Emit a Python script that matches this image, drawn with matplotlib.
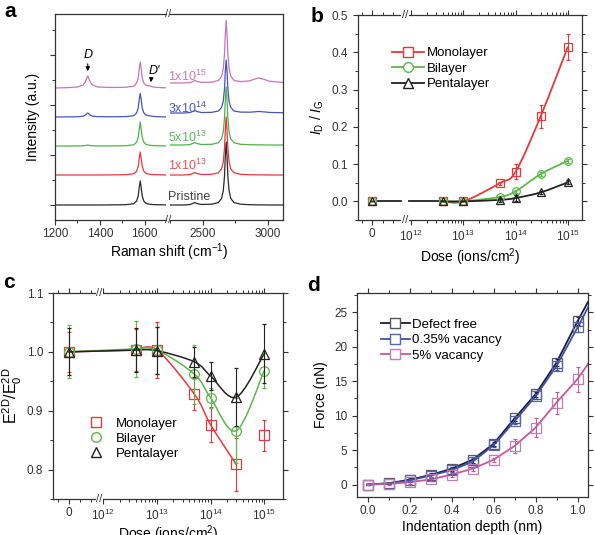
"""
Four-panel figure: Raman spectra of irradiated graphene, I_D/I_G vs dose,
normalised 2D modulus vs dose and simulated indentation force curves.
"""
import numpy as np
import matplotlib
matplotlib.use('Agg')
import matplotlib.pyplot as plt
from matplotlib.path import Path
from matplotlib.patches import PathPatch
from matplotlib.lines import Line2D
from matplotlib.ticker import MultipleLocator, FixedLocator

plt.rcParams['font.family'] = ['Liberation Sans', 'DejaVu Sans']
plt.rcParams['mathtext.fontset'] = 'custom'
plt.rcParams['mathtext.rm'] = 'Liberation Sans'
plt.rcParams['mathtext.it'] = 'Liberation Sans:italic'
plt.rcParams['axes.linewidth'] = 0.9
plt.rcParams['axes.edgecolor'] = '#333333'
plt.rcParams['xtick.color'] = '#333333'
plt.rcParams['ytick.color'] = '#333333'
plt.rcParams['xtick.labelsize'] = 8.5
plt.rcParams['ytick.labelsize'] = 8.5
plt.rcParams['xtick.major.pad'] = 2.5

# ---- (a) Raman spectra, offsets above each baseline (arb. units) ----
RAMAN_LEFT = [1200, 1250, 1300, 1325, 1335, 1341, 1346, 1351, 1357, 1367, 1390,
              1450, 1516, 1551, 1564, 1571, 1576, 1580, 1584, 1589, 1596, 1606,
              1617, 1622, 1628, 1640, 1670, 1695]
RAMAN_RIGHT = [2250, 2350, 2400, 2425, 2440, 2455, 2490, 2570, 2620, 2645, 2658,
               2667, 2674, 2680, 2686, 2693, 2702, 2715, 2740, 2790, 2860, 2900,
               2930, 2960, 3010, 3115]

PRISTINE_L = [0, 0, 0, 0, 0, 0, 0, 0, 0, 0, 0,
              0.1, 0.3, 1.3, 4, 9, 18, 24, 18, 9, 4, 1.6, 1, 0.8, 0.6, 0.4, 0.2, 0.1]
DOSE_1E13_L = [0, 0, 0, 0, 0, 0, 0, 0, 0, 0, 0,
               0.1, 0.3, 1.2, 3.8, 8.6, 17, 23, 17, 8.6, 3.8, 1.5, 1, 0.8, 0.6, 0.4, 0.2, 0.1]
DOSE_5E13_L = [0, 0, 0.1, 0.2, 0.45, 0.8, 1, 0.8, 0.45, 0.2, 0.1,
               0.1, 0.3, 1.2, 3.8, 8.6, 17, 24, 17, 8.6, 3.8, 1.6, 1, 0.8, 0.6, 0.4, 0.2, 0.1]
DOSE_3E14_L = [0, 0.1, 0.2, 0.8, 1.8, 3.2, 4, 3.2, 1.8, 0.8, 0.3,
               0.2, 0.4, 1.3, 4, 9, 18, 23.5, 18, 9, 4.2, 1.9, 1.4, 1.2, 0.9, 0.5, 0.2, 0.1]
DOSE_1E15_L = [0, 0.3, 1, 3, 6, 9.5, 12, 9.5, 6, 3, 1,
               0.5, 0.7, 1.8, 5, 10, 20, 26, 20, 10, 5, 2.8, 2.2, 2.3, 1.6, 0.9, 0.4, 0.2]

PRISTINE_R = [0, 0, 0.4, 1.5, 2.5, 1.5, 0.5, 0.8, 2.4, 6.6, 14.5, 28.5, 50, 63,
              50, 28.5, 14.5, 6.6, 2.4, 0.8, 0.3, 0.2, 0.1, 0.1, 0, 0]
DOSE_1E13_R = [0, 0, 0.4, 1.5, 2.5, 1.5, 0.5, 0.7, 2.2, 6.1, 13.3, 26.7, 46, 58,
               46, 26.7, 13.3, 6.1, 2.2, 0.7, 0.3, 0.2, 0.1, 0.1, 0, 0]
DOSE_5E13_R = [0, 0, 0.4, 1.5, 2.5, 1.5, 0.5, 0.7, 2.2, 6.1, 13.3, 26.7, 46, 58,
               46, 26.7, 13.3, 6.1, 2.2, 0.7, 0.3, 0.2, 0.1, 0.1, 0, 0]
DOSE_3E14_R = [0, 0, 0.4, 1.5, 2.5, 1.5, 0.5, 0.65, 2, 5.6, 12, 24, 43, 53,
               43, 24, 12, 5.6, 2, 0.9, 0.8, 1.2, 1.5, 1.2, 0.6, 0.2]
DOSE_1E15_R = [0, 0, 0.4, 1.5, 2.5, 1.5, 0.6, 0.8, 2.5, 6.7, 14.6, 29, 50, 63,
               50, 29, 14.6, 6.7, 2.6, 1.3, 2.2, 4, 5, 4, 1.8, 0.6]

SPEC_LABELS = ['Pristine', '1x10$^{13}$', '5x10$^{13}$', '3x10$^{14}$', '1x10$^{15}$']
SPEC_COLORS = ['#2a2a2a', '#e8383d', '#4cb34c', '#4455b8', '#c874b8']
LABEL_COLORS = ['#444444', '#e0555a', '#5cb85c', '#4a5abf', '#c87ab8']
BASE_LEFT = [15, 45, 74, 103, 132]
BASE_RIGHT = [15, 45, 75, 107, 137]
LABEL_Y = [23, 55, 83, 112, 144]

# ---- (b, c) dose series ----
DOSE = [0, 4e12, 1e13, 5e13, 1e14, 3e14, 1e15]
LAYERS = ['Monolayer', 'Bilayer', 'Pentalayer']
LAYER_COLORS = ['#e8383d', '#5cb84a', '#222222']
LAYER_MARKERS = ['s', 'o', '^']

ID_IG_MONO = [0, 0, 0, 0.049, 0.08, 0.228, 0.415]
ID_IG_MONO_ERR = [0, 0, 0, 0.004, 0.02, 0.031, 0.035]
ID_IG_BI = [0, 0, 0, 0.012, 0.027, 0.073, 0.109]
ID_IG_BI_ERR = [0, 0, 0, 0.003, 0.004, 0.006, 0.006]
ID_IG_PENTA = [0, 0, 0, 0.004, 0.009, 0.024, 0.051]
ID_IG_PENTA_ERR = [0, 0, 0, 0.006, 0.008, 0.005, 0.005]

E_MONO = [1.0, 1.003, 1.003, 0.928, 0.876, 0.809, 0.858]
E_MONO_ERR = [0.034, 0.036, 0.048, 0.027, 0.03, 0.045, 0.026]
E_BI = [1.0, 1.005, 1.003, 0.962, 0.922, 0.866, 0.968]
E_BI_ERR = [0.045, 0.048, 0.04, 0.05, 0.017, 0.055, 0.03]
E_PENTA = [1.0, 1.003, 1.002, 0.983, 0.959, 0.923, 0.997]
E_PENTA_ERR = [0.04, 0.037, 0.04, 0.025, 0.024, 0.049, 0.05]

# ---- (d) indentation ----
DEPTH = [0.0, 0.1, 0.2, 0.3, 0.4, 0.5, 0.6, 0.7, 0.8, 0.9, 1.0]
F_DEFECT_FREE = [0, 0.2, 0.7, 1.4, 2.3, 3.6, 5.9, 9.6, 13.1, 17.7, 23.7]
F_DEFECT_FREE_ERR = [0.1, 0.1, 0.2, 0.3, 0.3, 0.4, 0.3, 0.4, 0.4, 0.5, 0.6]
F_VAC_035 = [0, 0.15, 0.6, 1.3, 2.1, 3.3, 5.7, 9.2, 12.8, 17.2, 22.8]
F_VAC_035_ERR = [0.1, 0.1, 0.2, 0.3, 0.3, 0.5, 0.3, 0.4, 0.4, 0.6, 0.6]
F_VAC_5 = [0, 0.1, 0.35, 0.75, 1.45, 2.3, 3.6, 5.6, 8.25, 11.9, 15.3]
F_VAC_5_ERR = [0.1, 0.1, 0.2, 0.3, 0.3, 0.3, 0.3, 1.0, 1.4, 1.6, 1.8]
FIT_END_DEPTH = 1.05
FIT_END_FORCE = [26.5, 25.7, 17.5]
D_LABELS = ['Defect free', '0.35% vacancy', '5% vacancy']
D_COLORS = ['#1c1c3a', '#3e50a6', '#c4589c']
D_EDGE = ['#555566', '#5565b0', '#c878b4']

W, H = 595, 535
fig = plt.figure(figsize=(W / 100, H / 100), dpi=100)


def box(x0, y0, x1, y1):
    """Pixel box (top-left origin) -> figure fraction rect."""
    return [x0 / W, 1 - y1 / H, (x1 - x0) / W, (y1 - y0) / H]


def dose_pos(dose, zero_pos):
    return np.array([np.log10(d) if d > 0 else zero_pos for d in dose])


def smooth_line(ax, xs, ys, **kw):
    """Smooth curve through the points (Catmull-Rom as cubic Bezier)."""
    pts = np.column_stack([xs, ys]).astype(float)
    ext = np.vstack([pts[0], pts, pts[-1]])
    verts = [pts[0]]
    codes = [Path.MOVETO]
    for i in range(len(pts) - 1):
        p0, p1, p2, p3 = ext[i], ext[i + 1], ext[i + 2], ext[i + 3]
        verts += [p1 + (p2 - p0) / 6, p2 - (p3 - p1) / 6, p2]
        codes += [Path.CURVE4] * 3
    ax.add_patch(PathPatch(Path(verts, codes), fill=False, **kw))


def break_mark(ax, x):
    for yy in (0, 1):
        ax.text(x, yy, '//', transform=ax.get_xaxis_transform(), ha='center',
                va='center', fontsize=8, color='#333333', clip_on=False, zorder=5,
                bbox=dict(fc='white', ec='none', pad=0.3))


def dose_axis(ax, zero_pos, brk, xlim, labelpad=2):
    ax.set_xlim(*xlim)
    ax.set_xticks([zero_pos, 12, 13, 14, 15])
    ax.set_xticklabels(['0', '10$^{12}$', '10$^{13}$', '10$^{14}$', '10$^{15}$'])
    minors = [zero_pos - 0.2, zero_pos + 0.2, zero_pos + 0.4]
    for n in (12, 13, 14):
        minors += [n + np.log10(k) for k in range(2, 10)]
    ax.xaxis.set_minor_locator(FixedLocator(minors))
    ax.set_xlabel('Dose (ions/cm$^2$)', fontsize=10, labelpad=labelpad)
    break_mark(ax, brk)


def style_ticks(ax):
    ax.tick_params(which='both', direction='out', top=True, right=True)
    ax.tick_params(which='major', length=3.5, width=0.8)
    ax.tick_params(which='minor', length=2, width=0.7)


# ---------------- panel a ----------------
axl = fig.add_axes(box(55, 14, 166, 220))
axr = fig.add_axes(box(170, 14, 283, 220))
left_sets = [PRISTINE_L, DOSE_1E13_L, DOSE_5E13_L, DOSE_3E14_L, DOSE_1E15_L]
right_sets = [PRISTINE_R, DOSE_1E13_R, DOSE_5E13_R, DOSE_3E14_R, DOSE_1E15_R]
for yl, yr, bl, br, col in zip(left_sets, right_sets, BASE_LEFT, BASE_RIGHT, SPEC_COLORS):
    axl.plot(RAMAN_LEFT, np.array(yl) + bl, color=col, lw=0.9)
    axr.plot(RAMAN_RIGHT, np.array(yr) + br, color=col, lw=0.9)
for ax in (axl, axr):
    ax.set_ylim(0, 206)
    ax.tick_params(which='major', direction='out', length=3.5, width=0.8)
    ax.tick_params(which='minor', direction='out', length=2, width=0.7)
axl.set_xlim(1200, 1695)
axr.set_xlim(2250, 3115)
axl.xaxis.set_major_locator(MultipleLocator(200))
axl.xaxis.set_minor_locator(MultipleLocator(100))
axr.xaxis.set_major_locator(FixedLocator([2500, 3000]))
axr.xaxis.set_minor_locator(FixedLocator([2250, 2750]))
axl.yaxis.set_major_locator(FixedLocator([15, 65, 115, 165]))
axl.yaxis.set_minor_locator(FixedLocator([40, 90, 140, 190]))
axl.set_yticklabels([])
axl.spines['right'].set_visible(False)
axr.spines['left'].set_visible(False)
axr.tick_params(axis='y', which='both', left=False, labelleft=False)
axl.set_ylabel('Intensity (a.u.)', fontsize=10, labelpad=4)
for lab, ly, lc in zip(SPEC_LABELS, LABEL_Y, LABEL_COLORS):
    axr.text(2236, ly, lab, color=lc, fontsize=9, ha='left', va='center', clip_on=False)
axl.annotate('', xy=(1346, 146), xytext=(1346, 159),
             arrowprops=dict(arrowstyle='-|>', color='black', lw=0.8, mutation_scale=6))
axl.text(1346, 165, 'D', fontsize=9, style='italic', ha='center', va='center')
axl.annotate('', xy=(1626, 135), xytext=(1630, 143),
             arrowprops=dict(arrowstyle='-|>', color='black', lw=0.8, mutation_scale=6))
axl.text(1642, 149, "D'", fontsize=9, style='italic', ha='center', va='center')
for yy in (14, 220):
    fig.text(168 / W, 1 - yy / H, '//', ha='center', va='center', fontsize=8,
             color='#333333')
fig.text(169 / W, 1 - 252 / H, 'Raman shift (cm$^{-1}$)', ha='center', va='center',
         fontsize=10)

# ---------------- panel b ----------------
axb = fig.add_axes(box(358, 15, 582, 220))
ZERO_B = 11.25
pos_b = dose_pos(DOSE, ZERO_B)
b_vals = [ID_IG_MONO, ID_IG_BI, ID_IG_PENTA]
b_errs = [ID_IG_MONO_ERR, ID_IG_BI_ERR, ID_IG_PENTA_ERR]
for i, (vals, errs, col, mk) in enumerate(zip(b_vals, b_errs, LAYER_COLORS, LAYER_MARKERS)):
    smooth_line(axb, pos_b[1:], vals[1:], edgecolor=col, lw=1.3, zorder=2 + i * 0.1)
    axb.errorbar(pos_b, vals, yerr=errs, fmt=mk, ms=5.5, mfc='none', mec=col,
                 mew=0.9, ecolor=col, elinewidth=0.8, capsize=1.5, zorder=3 + i * 0.1)
BRK_B = 11.88
axb.plot([ZERO_B + 0.12, BRK_B - 0.07], [ID_IG_PENTA[0], ID_IG_PENTA[1]],
         color=LAYER_COLORS[2], lw=1.3, zorder=2.5)
axb.plot([BRK_B + 0.07, pos_b[1]], [ID_IG_PENTA[1], ID_IG_PENTA[1]],
         color=LAYER_COLORS[2], lw=1.3, zorder=2.5)
axb.set_ylim(-0.05, 0.5)
axb.yaxis.set_major_locator(MultipleLocator(0.1))
axb.yaxis.set_minor_locator(MultipleLocator(0.05))
axb.yaxis.set_major_formatter('{x:.1f}')
dose_axis(axb, ZERO_B, BRK_B, (10.98, 15.27))
style_ticks(axb)
axb.set_ylabel(r'$\mathit{I}_\mathrm{D}$ / $\mathit{I}_\mathrm{G}$', fontsize=10, labelpad=4)
handles = [Line2D([], [], color=c, marker=m, mfc='white', mec=c, ms=7, lw=1.3)
           for c, m in zip(LAYER_COLORS, LAYER_MARKERS)]
axb.legend(handles, LAYERS, loc='upper left', bbox_to_anchor=(0.13, 0.87),
           frameon=False, fontsize=9.5, handlelength=2.4, handletextpad=0.2,
           labelspacing=0.25, borderaxespad=0)

# ---------------- panel c ----------------
axc = fig.add_axes(box(53, 293, 283, 499))
ZERO_C = 11.36
pos_c = dose_pos(DOSE, ZERO_C)
c_vals = [E_MONO, E_BI, E_PENTA]
c_errs = [E_MONO_ERR, E_BI_ERR, E_PENTA_ERR]
c_last = [6, 7, 7]
for i, (vals, errs, col, mk, n) in enumerate(zip(c_vals, c_errs, LAYER_COLORS,
                                                  LAYER_MARKERS, c_last)):
    smooth_line(axc, pos_c[1:n], vals[1:n], edgecolor=col, lw=1.1, zorder=2 + i * 0.1)
    axc.plot(pos_c[:2], vals[:2], color=col, lw=1.1, zorder=2 + i * 0.1)
    axc.errorbar(pos_c, vals, yerr=errs, fmt=mk, ms=7, mfc='none', mec=col,
                 mew=0.9, ecolor=col, elinewidth=0.8, capsize=1.5, zorder=3 + i * 0.1)
axc.set_ylim(0.75, 1.1)
axc.yaxis.set_major_locator(MultipleLocator(0.1))
axc.yaxis.set_minor_locator(MultipleLocator(0.05))
axc.yaxis.set_major_formatter('{x:.1f}')
dose_axis(axc, ZERO_C, 11.92, (11.06, 15.35), labelpad=0.5)
style_ticks(axc)
axc.set_ylabel(r'E$^{\mathrm{2D}}$/E$_0^{\mathrm{2D}}$', fontsize=11.5, labelpad=2)
handles = [Line2D([], [], color=c, marker=m, mfc='white', mec=c, ms=7, lw=0)
           for c, m in zip(LAYER_COLORS, LAYER_MARKERS)]
axc.legend(handles, LAYERS, loc='upper left', bbox_to_anchor=(0.12, 0.42),
           frameon=False, fontsize=9.5, handlelength=1.5, handletextpad=0.8,
           labelspacing=0.2, borderaxespad=0)

# ---------------- panel d ----------------
axd = fig.add_axes(box(357, 293, 588, 497))
d_vals = [F_DEFECT_FREE, F_VAC_035, F_VAC_5]
d_errs = [F_DEFECT_FREE_ERR, F_VAC_035_ERR, F_VAC_5_ERR]
for i, (vals, errs, col, ec, end) in enumerate(zip(d_vals, d_errs, D_COLORS, D_EDGE,
                                                    FIT_END_FORCE)):
    axd.plot(DEPTH + [FIT_END_DEPTH], vals + [end], color=col, lw=1.3, zorder=2 + i * 0.1)
    axd.errorbar(DEPTH, vals, yerr=errs, fmt='s', ms=6.5, mfc='none', mec=ec,
                 mew=0.9, ecolor=col, elinewidth=0.7, capsize=1.5, zorder=3 + i * 0.1)
axd.set_xlim(-0.05, 1.05)
axd.set_ylim(-1.8, 27.8)
axd.xaxis.set_major_locator(MultipleLocator(0.2))
axd.xaxis.set_minor_locator(MultipleLocator(0.1))
axd.xaxis.set_major_formatter('{x:.1f}')
axd.yaxis.set_major_locator(MultipleLocator(5))
axd.yaxis.set_minor_locator(MultipleLocator(2.5))
style_ticks(axd)
axd.set_xlabel('Indentation depth (nm)', fontsize=10, labelpad=2)
axd.set_ylabel('Force (nN)', fontsize=10, labelpad=4)
handles = [Line2D([], [], color=c, marker='s', mfc='white', mec=ec, ms=7, lw=1.3)
           for c, ec in zip(D_COLORS, D_EDGE)]
axd.legend(handles, D_LABELS, loc='upper left', bbox_to_anchor=(0.08, 0.9),
           frameon=False, fontsize=9.5, handlelength=2.2, handletextpad=0.2,
           labelspacing=0.25, borderaxespad=0)

# panel letters
for letter, px, py in [('a', 4, 17), ('b', 311, 22), ('c', 3, 288), ('d', 307, 291)]:
    fig.text(px / W, 1 - py / H, letter, fontsize=15, fontweight='bold',
             ha='left', va='baseline')

fig.savefig('out.png', dpi=100)
